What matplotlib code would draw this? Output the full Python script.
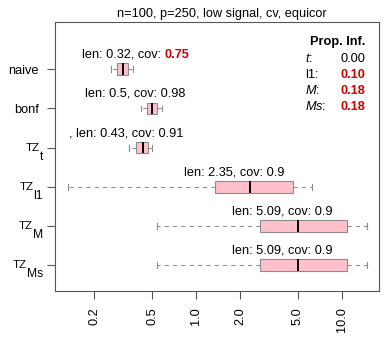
import matplotlib
matplotlib.use("Agg")
import matplotlib.pyplot as plt

plt.rcParams['font.family'] = ['Liberation Sans', 'DejaVu Sans']
plt.rcParams['mathtext.fontset'] = 'custom'
plt.rcParams['mathtext.rm'] = 'Liberation Sans'
plt.rcParams['mathtext.it'] = 'Liberation Sans:italic'
plt.rcParams['mathtext.bf'] = 'Liberation Sans:bold'

# данные
methods = ['naive', 'bonf', 'TZ', 'TZ', 'TZ', 'TZ']
method_subs = ['', '', 't', 'l1', 'M', 'Ms']
whislo = [0.260, 0.417, 0.348, 0.131, 0.537, 0.537]
q1 = [0.285, 0.458, 0.387, 1.35, 2.75, 2.75]
med = [0.316, 0.500, 0.434, 2.34, 5.04, 5.04]
q3 = [0.342, 0.537, 0.465, 4.65, 10.8, 10.8]
whishi = [0.371, 0.586, 0.496, 6.28, 14.9, 14.9]

len_labels = ['len: 0.32, cov: ', 'len: 0.5, cov: 0.98', ', len: 0.43, cov: 0.91',
              'len: 2.35, cov: 0.9', 'len: 5.09, cov: 0.9', 'len: 5.09, cov: 0.9']
red_parts = ['0.75', '', '', '', '', '']
label_left = [0.164, 0.173, 0.135, 0.83, 1.774, 1.774]  # левый край подписи

xticks = [0.2, 0.5, 1.0, 2.0, 5.0, 10.0]
xtick_labels = ['0.2', '0.5', '1.0', '2.0', '5.0', '10.0']

prop_names = ['$\\it{t}$:', 'l1:', '$\\it{M}$:', '$\\it{Ms}$:']
prop_values = ['0.00', '0.10', '0.18', '0.18']
prop_red = [False, True, True, True]

title = 'n=100, p=250, low signal, cv, equicor'

W, H = 388, 347
PX = 0.72  # пиксель в пунктах
RED = '#CD0000'
FS = 9.2
fig = plt.figure(figsize=(W / 100, H / 100), dpi=100)
ax = fig.add_axes([55 / W, 1 - 291 / H, (379 - 55) / W, (291 - 22) / H])

n = len(methods)
positions = [n - i for i in range(n)]
stats = []
for i in range(n):
    stats.append({'whislo': whislo[i], 'q1': q1[i], 'med': med[i],
                  'q3': q3[i], 'whishi': whishi[i], 'fliers': []})

ax.bxp(stats, positions=positions, orientation='horizontal', widths=0.3,
       patch_artist=True, showfliers=False, capwidths=0.15,
       boxprops=dict(facecolor='pink', edgecolor='#8c8c8c', linewidth=0.8),
       whiskerprops=dict(color='#8c8c8c', linestyle=(0, (4, 4)), linewidth=0.75),
       capprops=dict(color='#8c8c8c', linewidth=0.8),
       medianprops=dict(color='black', linewidth=1.4))

ax.set_xscale('log')
ax.set_xlim(0.1074, 18.03)
ax.set_ylim(0.335, 7.21)

ax.set_xticks(xticks)
ax.set_xticklabels(xtick_labels, rotation=90, va='top')
ax.xaxis.set_minor_locator(matplotlib.ticker.NullLocator())
ax.set_yticks(positions)
ax.set_yticklabels([m if not s else '' for m, s in zip(methods, method_subs)])
ax.tick_params(axis='both', labelsize=FS, length=5.8, width=0.8, color='#555555', pad=5.8)

# подписи с нижним индексом, как в R
ytrans = ax.get_yaxis_transform()
for i in range(n):
    if not method_subs[i]:
        continue
    sub = ax.annotate(method_subs[i], xy=(0, positions[i]), xycoords=ytrans,
                      xytext=(-12 * PX, -9 * PX), textcoords='offset points',
                      ha='right', va='center', fontsize=FS * 0.95,
                      annotation_clip=False)
    ax.annotate(methods[i], xy=(0, 0.5), xycoords=sub,
                xytext=(0, 8.5 * PX), textcoords='offset points',
                ha='right', va='center', fontsize=FS * 0.9)

for s in ax.spines.values():
    s.set_color('#555555')
    s.set_linewidth(0.8)

# подписи над боксами
for i in range(n):
    t = ax.text(label_left[i], positions[i] + 0.37, len_labels[i], fontsize=FS,
                ha='left', va='center')
    if red_parts[i]:
        ax.annotate(red_parts[i], xy=(1, 0), xycoords=t, va='bottom', ha='left',
                    fontsize=FS, color=RED, fontweight='bold')

fig.text(222 / W, 1 - 14.5 / H, title, fontsize=FS, ha='center', va='center')

# таблица Prop. Inf.
fig.text(365 / W, 1 - 41.7 / H, 'Prop. Inf.', fontsize=FS, fontweight='bold',
         ha='right', va='center')
row_y = [59, 75, 90.7, 106.7]
for i in range(len(prop_names)):
    fig.text(305 / W, 1 - row_y[i] / H, prop_names[i], fontsize=FS, ha='left', va='center')
    fig.text(365 / W, 1 - row_y[i] / H, prop_values[i], fontsize=FS, ha='right',
             va='center', color=RED if prop_red[i] else 'black',
             fontweight='bold' if prop_red[i] else 'normal')

fig.savefig('out.png', dpi=100, facecolor='white')
